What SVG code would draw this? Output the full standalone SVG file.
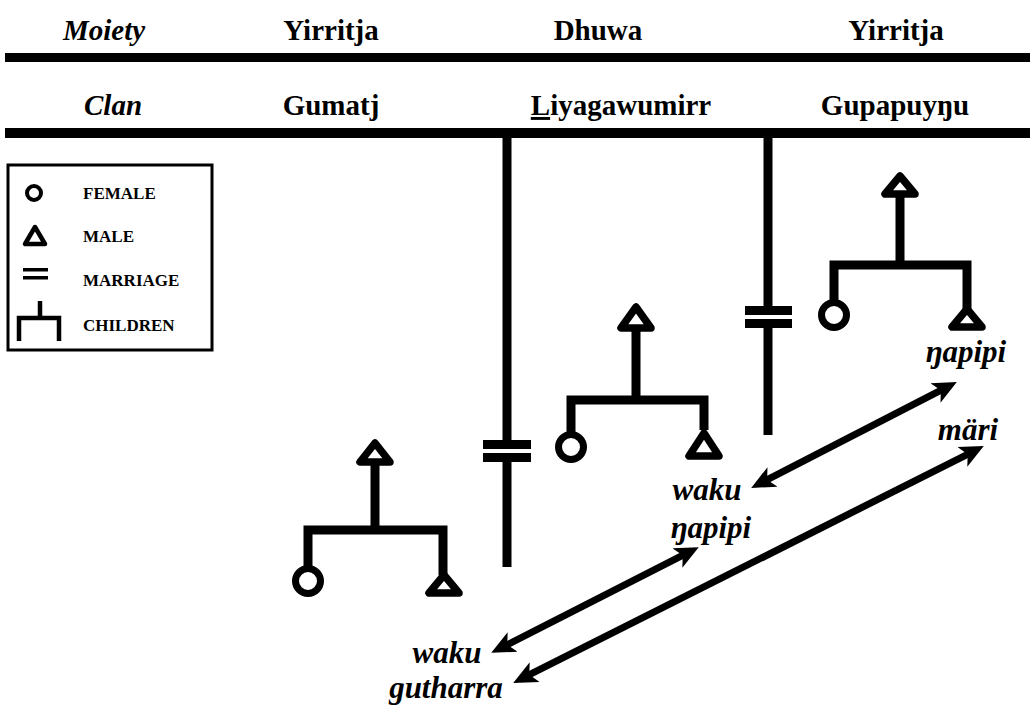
<svg xmlns="http://www.w3.org/2000/svg" width="1030" height="707" viewBox="0 0 1030 707">
<style>
.hd{font-family:'Liberation Serif','Times New Roman','DejaVu Serif',serif;font-weight:bold;font-size:29px;fill:#000;text-anchor:middle}
.hi{font-style:italic}
.lg{font-family:'Liberation Serif','Times New Roman','DejaVu Serif',serif;font-weight:bold;font-size:17px;fill:#000}
.kin{font-family:'Liberation Serif','Times New Roman','DejaVu Serif',serif;font-weight:bold;font-style:italic;font-size:31px;fill:#000;text-anchor:middle}
.ln{stroke:#000;stroke-width:9;fill:none}
.m{stroke:#000;stroke-width:7.5;fill:#fff;stroke-linejoin:round}
.f{stroke:#000;stroke-width:7;fill:#fff}
.bar{fill:#000}
.arr{stroke:#000;stroke-width:7;fill:none;marker-start:url(#ah);marker-end:url(#ah)}
</style>
<defs>
<marker id="ah" markerUnits="userSpaceOnUse" viewBox="0 -14 28 28" markerWidth="28" markerHeight="28" refX="8" refY="0" orient="auto-start-reverse">
<path d="M24,0 L0,-11 L6,0 L0,11 Z" fill="#000"/>
</marker>
</defs>
<rect width="1030" height="707" fill="#fff"/>
<g id="header">
<rect x="5" y="53" width="1025" height="9" fill="#000"/>
<rect x="5" y="128" width="1025" height="10" fill="#000"/>
<text class="hd hi" x="104" y="40">Moiety</text>
<text class="hd" x="331" y="40">Yirritja</text>
<text class="hd" x="598" y="40">Dhuwa</text>
<text class="hd" x="896" y="40">Yirritja</text>
<text class="hd hi" x="113" y="115">Clan</text>
<text class="hd" x="331" y="115">Gumatj</text>
<text class="hd" x="621" y="115"><tspan style="text-decoration:underline">L</tspan>iyagawumirr</text>
<text class="hd" x="895" y="115">Gupapuyŋu</text>
</g>
<g id="legend">
<rect x="8" y="165" width="204" height="185" fill="none" stroke="#000" stroke-width="3"/>
<circle cx="34" cy="193" r="7" fill="none" stroke="#000" stroke-width="4"/>
<polygon points="35,227 25,244 45,244" fill="none" stroke="#000" stroke-width="4.5" stroke-linejoin="round"/>
<rect x="23" y="268" width="25" height="3.5" fill="#000"/>
<rect x="23" y="276" width="25" height="3.5" fill="#000"/>
<path d="M40,301 V318 M19,341 V318 H59 V341" stroke="#000" stroke-width="4.5" fill="none"/>
<text class="lg" x="83" y="199">FEMALE</text>
<text class="lg" x="83" y="242">MALE</text>
<text class="lg" x="83" y="286">MARRIAGE</text>
<text class="lg" x="83" y="331">CHILDREN</text>
</g>
<g id="connectors">
<path class="ln" d="M507,138 V446 M507,459 V567"/>
<rect class="bar" x="483" y="440" width="48" height="9"/>
<rect class="bar" x="483" y="453" width="48" height="9"/>
<path class="ln" d="M768,138 V312 M768,324 V435"/>
<rect class="bar" x="745" y="306" width="47" height="9"/>
<rect class="bar" x="745" y="319" width="47" height="9"/>
<path class="ln" d="M375,462 V530 M308,566 V530 H443 V575"/>
<path class="ln" d="M636,328 V400 M571,432 V400 H704 V430"/>
<path class="ln" d="M900,194 V265 M834,300 V265 H967 V310"/>
<line class="arr" x1="765.4" y1="480.6" x2="942.6" y2="389.4"/>
<line class="arr" x1="505.5" y1="645.6" x2="684.5" y2="554.4"/>
<line class="arr" x1="527.5" y1="675.7" x2="969.5" y2="453.3"/>
</g>
<g id="gumatj-father"><polygon class="m" points="375,443 360,462 390,462"/></g>
<g id="gumatj-daughter"><circle class="f" cx="308" cy="581" r="12.5"/></g>
<g id="gumatj-son"><polygon class="m" points="444,575 429,593 459,593"/></g>
<g id="liya-father"><polygon class="m" points="636,307 621,328 651,328"/></g>
<g id="liya-daughter"><circle class="f" cx="571" cy="447" r="12.5"/></g>
<g id="liya-son"><polygon class="m" points="704,433 689,456 719,456"/></g>
<g id="gupa-father"><polygon class="m" points="900,176 885,194 915,194"/></g>
<g id="gupa-daughter"><circle class="f" cx="834" cy="315" r="12.5"/></g>
<g id="gupa-son"><polygon class="m" points="967,309 952,327 982,327"/></g>
<g id="labels">
<text class="kin" x="966" y="362">ŋapipi</text>
<text class="kin" x="968" y="440">märi</text>
<text class="kin" x="707" y="500">waku</text>
<text class="kin" x="711" y="538">ŋapipi</text>
<text class="kin" x="447" y="663">waku</text>
<text class="kin" x="446" y="698">gutharra</text>
</g>
</svg>
